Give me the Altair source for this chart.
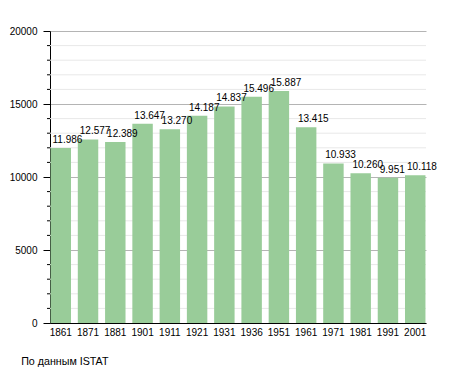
import altair as alt
import pandas as pd

years = ["1861", "1871", "1881", "1901", "1911", "1921", "1931", "1936", "1951", "1961", "1971", "1981", "1991", "2001"]
population = [11986, 12577, 12389, 13647, 13270, 14187, 14837, 15496, 15887, 13415, 10933, 10260, 9951, 10118]
major_ticks = [0, 5000, 10000, 15000, 20000]
minor_ticks = [v for v in range(1000, 20000, 1000) if v % 5000 != 0]
source_note = "По данным  ISTAT"

df = pd.DataFrame({"year": years, "pop": population})
minor_df = pd.DataFrame({"v": minor_ticks})

FONT = "Liberation Sans"

x_enc = alt.X("year:N", sort=years,
              scale=alt.Scale(paddingInner=0.25, paddingOuter=0.02),
              axis=alt.Axis(title=None, labelAngle=0, ticks=False, domainColor="black",
                            labelFontSize=10, labelFont=FONT, labelColor="black",
                            labelPadding=4, grid=False))

y_scale = alt.Scale(domain=[0, 20000], nice=False)
y_axis = alt.Axis(title=None, values=major_ticks, format="d",
                  tickSize=7, tickColor="black", domainColor="black",
                  labelFontSize=10, labelFont=FONT, labelColor="black",
                  labelPadding=6, grid=True, gridColor="#b4b4b4", gridWidth=1)

minor_grid = alt.Chart(minor_df).mark_rule(color="#e8e8e8", strokeWidth=1).encode(
    y=alt.Y("v:Q", scale=y_scale, axis=y_axis),
)
minor_tick = alt.Chart(minor_df).mark_rule(color="black", strokeWidth=1).encode(
    y=alt.Y("v:Q", scale=y_scale, axis=y_axis),
    x=alt.value(-3), x2=alt.value(0),
)

bars = alt.Chart(df).mark_bar(color="#99cc99").encode(
    x=x_enc,
    y=alt.Y("pop:Q", scale=y_scale, axis=y_axis),
)

labels = alt.Chart(df).transform_calculate(
    lbl="replace(format(datum.pop, ','), ',', '.')"
).mark_text(align="left", baseline="bottom", dx=2, dy=-3, fontSize=10, font=FONT, color="black").encode(
    x=alt.X("year:N", sort=years, bandPosition=0),
    y=alt.Y("pop:Q", scale=y_scale, axis=y_axis),
    text="lbl:N",
)

chart = alt.layer(minor_grid, minor_tick, bars, labels).properties(
    width=376, height=292,
    autosize=alt.AutoSizeParams(type="none"),
    padding={"left": 42, "top": 23, "right": 21, "bottom": 50},
    title=alt.TitleParams(source_note, orient="bottom", anchor="start", dx=12, offset=20,
                          fontSize=10.7, font=FONT, fontWeight="normal", color="black"),
).configure_view(stroke=None)

chart.save("out.html", embed_options={"renderer": "svg", "actions": False})
